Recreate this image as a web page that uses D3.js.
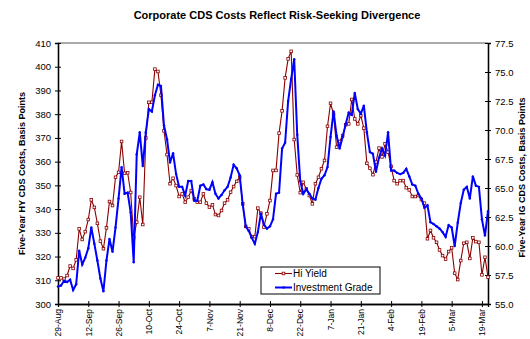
<!DOCTYPE html>
<html><head><meta charset="utf-8">
<script src="https://cdn.jsdelivr.net/npm/d3@7"></script>
<style>
html,body{margin:0;padding:0;background:#fff;}
svg{display:block;font-family:"Liberation Sans",Arial,sans-serif;}
</style></head>
<body>
<svg id="c" width="530" height="339"></svg>
<script>
// ---- Data ----
const title = "Corporate CDS Costs Reflect Risk-Seeking Divergence";
const leftTitle = "Five-Year HY CDS Costs, Basis Points";
const rightTitle = "Five-Year IG CDS Costs, Basis Points";
const seriesNames = ["Hi Yield", "Investment Grade"];
const tickLabels = ["29-Aug","12-Sep","26-Sep","10-Oct","24-Oct","7-Nov","21-Nov","8-Dec","22-Dec","7-Jan","21-Jan","4-Feb","19-Feb","5-Mar","19-Mar"];
const tickIndex = [0,10,20,30,40,50,60,70,80,90,100,110,120,130,140];
const leftTicks = [300,310,320,330,340,350,360,370,380,390,400,410];
const rightTicks = [55,57.5,60,62.5,65,67.5,70,72.5,75,77.5];

const hiYield = [
311,311,310.5,312,316,315,318.6,331.7,327.2,330.5,
335.6,343.9,340.7,334,326.5,323.3,332.1,343.2,341.5,353.4,
355.5,368.5,355.1,355.3,347,328,334.5,345,333.5,370,
385,385,399,398,388,373,363,350.7,353,349.9,
345.3,346.4,342.9,345,347.8,344.3,342.9,
342.9,346.4,342.5,340.8,341.8,337.7,337.3,339.4,342.5,343.9,
347.1,349.5,351.7,353.4,342.2,332.7,331.7,328.4,328.4,340.4,
338.3,332.4,338,343.6,356.3,356.3,372,381.4,395.3,403.3,
406.5,369.3,354.4,346.9,351.3,348.5,345.7,342.2,350.7,353.4,
357,360.5,374.9,384.6,380,366.1,368.5,371,375.5,375.9,
386.2,378,375.9,379.4,374.1,359.3,357.2,354.5,359.8,365.7,
362,367.5,364,358,352,350.7,352,352,349,348.1,
345.3,345.3,345.7,344,342.5,327.5,331,327.9,326,322.8,
320.4,318.9,322.1,323.7,313,310.3,318.3,325.6,326,319.2,
327.9,326.3,326,312.3,319.7,311.3
];
const investmentGrade = [
56.5,56.6,57.0,56.9,57.1,56.2,56.7,59.6,58.4,59.0,
59.8,61.6,60.2,58.75,57.2,56.1,58.75,60.6,59.5,61.6,
64.1,66.8,64.5,64.6,62.9,58.6,67.9,69.8,66.9,69.8,
71.8,71.6,73.0,73.9,73.8,70.4,69.2,67.2,68.0,66.2,
65.1,65.1,64.35,65.6,65.6,63.9,63.9,65.2,65.3,64.9,
64.85,65.5,64.5,64.1,64.4,64.8,65.1,65.9,67.0,66.7,
66.1,63.6,61.7,61.3,60.7,60.2,61.2,62.8,61.85,61.5,
61.7,62.3,64.5,64.6,68.4,68.9,72.5,74.4,76.1,69.6,
65.6,64.5,64.9,64.5,64.1,64.0,65.0,65.8,66.1,66.8,
69.4,71.6,69.5,68.4,69.4,70.5,71.5,71.3,73.2,71.8,
71.4,72.1,69.8,68.1,67.95,66.4,67.6,68.4,67.8,69.8,
66.5,66.5,66.3,66.2,66.3,66.65,66.0,65.3,65.2,64.5,
64.1,63.3,63.5,62.05,61.9,61.7,61.5,61.2,60.8,61.8,
61.6,60.0,62.0,63.7,64.85,65.1,64.1,66.0,65.2,65.1,
62.3,60.9,63.0
];

// ---- Layout ----
const L = 58, R = 488, T = 43, B = 304;
const redC = "#8B0000", blueC = "#0000FF";
const svg = d3.select("#c");
const n = hiYield.length;
const x = d3.scalePoint().domain(d3.range(n)).range([L, R]);
const yL = d3.scaleLinear().domain([300, 410]).range([B, T]);
const yR = d3.scaleLinear().domain([55, 77.5]).range([B, T]);

// title
svg.append("text").attr("x", 277).attr("y", 19).attr("text-anchor", "middle")
  .attr("font-size", 11).attr("font-weight", "bold").attr("fill", "#000").text(title);

// top border
svg.append("line").attr("x1", L).attr("x2", R).attr("y1", T).attr("y2", T)
  .attr("stroke", "#555").attr("stroke-width", 1);

// left axis
svg.append("g").attr("transform", `translate(${L},0)`)
  .call(d3.axisLeft(yL).tickValues(leftTicks).tickSize(3).tickPadding(4).tickFormat(d3.format("d")));
svg.append("g").attr("transform", `translate(${L},0)`)
  .call(d3.axisRight(yL).tickValues(leftTicks).tickSize(3).tickFormat("").tickSizeOuter(0));
// right axis
svg.append("g").attr("transform", `translate(${R},0)`)
  .call(d3.axisRight(yR).tickValues(rightTicks).tickSize(3).tickPadding(4).tickFormat(d3.format(".1f")));
svg.append("g").attr("transform", `translate(${R},0)`)
  .call(d3.axisLeft(yR).tickValues(rightTicks).tickSize(3).tickFormat("").tickSizeOuter(0));
// bottom axis
const gB = svg.append("g").attr("transform", `translate(0,${B})`)
  .call(d3.axisBottom(x).tickValues(tickIndex).tickSize(3).tickFormat((d, i) => tickLabels[i]));
svg.append("g").attr("transform", `translate(0,${B})`)
  .call(d3.axisTop(x).tickValues(tickIndex).tickSize(3).tickFormat("").tickSizeOuter(0));

svg.selectAll(".domain").attr("stroke", "#000").attr("stroke-width", 1.3);
svg.selectAll(".tick line").attr("stroke", "#000");
svg.selectAll(".tick text").attr("font-size", 9.5).attr("fill", "#000")
  .attr("font-family", "'Liberation Sans',Arial,sans-serif");
gB.selectAll(".tick text").attr("transform", "rotate(-90)").attr("font-size", 8.5)
  .attr("text-anchor", "end").attr("x", -5).attr("y", 0).attr("dy", "0.32em");

// axis titles
svg.append("text").attr("transform", `translate(25,${(T + B) / 2}) rotate(-90)`)
  .attr("text-anchor", "middle").attr("font-size", 9).attr("font-weight", "bold").text(leftTitle);
svg.append("text").attr("transform", `translate(525,${(T + B) / 2 + 4}) rotate(-90)`)
  .attr("text-anchor", "middle").attr("font-size", 9).attr("font-weight", "bold").text(rightTitle);

// series
const lineHY = d3.line().x((d, i) => x(i)).y(d => yL(d));
const lineIG = d3.line().x((d, i) => x(i)).y(d => yR(d));
svg.append("path").datum(hiYield).attr("d", lineHY).attr("fill", "none")
  .attr("stroke", redC).attr("stroke-width", 1.1);
svg.append("g").selectAll("rect").data(hiYield).join("rect")
  .attr("x", (d, i) => x(i) - 1.3).attr("y", d => yL(d) - 1.3)
  .attr("width", 2.6).attr("height", 2.6)
  .attr("fill", "#fff").attr("stroke", redC).attr("stroke-width", 0.8);
svg.append("path").datum(investmentGrade).attr("d", lineIG).attr("fill", "none")
  .attr("stroke", blueC).attr("stroke-width", 2);
svg.append("g").selectAll("circle").data(investmentGrade).join("circle")
  .attr("cx", (d, i) => x(i)).attr("cy", d => yR(d)).attr("r", 1.2).attr("fill", blueC);

// legend
const lg = svg.append("g");
lg.append("rect").attr("x", 261).attr("y", 267).attr("width", 119).attr("height", 27)
  .attr("fill", "#fff").attr("stroke", "#000").attr("stroke-width", 1);
[[redC, 1.1, 273.5], [blueC, 2, 287.5]].forEach((s, k) => {
  lg.append("line").attr("x1", 275).attr("x2", 292).attr("y1", s[2]).attr("y2", s[2])
    .attr("stroke", s[0]).attr("stroke-width", s[1]);
  if (k === 0) {
    lg.append("rect").attr("x", 282.2).attr("y", s[2] - 1.3).attr("width", 2.6).attr("height", 2.6)
      .attr("fill", "#fff").attr("stroke", redC).attr("stroke-width", 0.8);
  } else {
    lg.append("circle").attr("cx", 283.5).attr("cy", s[2]).attr("r", 1.2).attr("fill", blueC);
  }
  lg.append("text").attr("x", 293).attr("y", s[2] + 3.5).attr("font-size", 10).text(seriesNames[k]);
});
</script>
</body></html>
